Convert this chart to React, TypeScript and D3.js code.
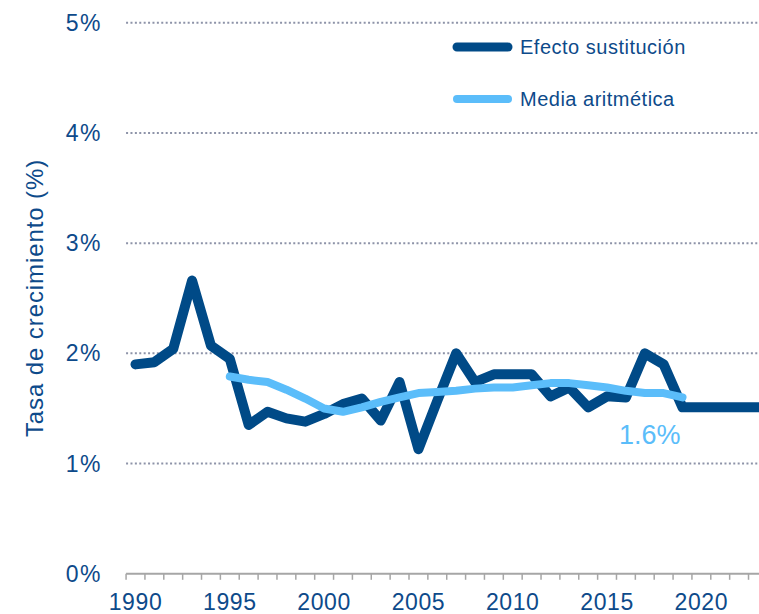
import * as d3 from 'd3';

const WIDTH = 759;
const HEIGHT = 614;

const DARK = '#004a87';
const LIGHT = '#5bbdfa';
const TEXT = '#0d4a8a';
const FONT = '"Liberation Sans", Arial, sans-serif';

// Efecto sustitución, 1990-2024 (flat from 2019 on)
const substYears = d3.range(1990, 2025);
const substValues = [
  1.9, 1.92, 2.04, 2.66, 2.07, 1.95, 1.35, 1.47, 1.41, 1.38,
  1.45, 1.54, 1.59, 1.39, 1.74, 1.13, 1.57, 2.0, 1.74, 1.81,
  1.81, 1.81, 1.61, 1.69, 1.51, 1.61, 1.6, 2.0, 1.9, 1.51,
  1.51, 1.51, 1.51, 1.51, 1.51,
];

// Media aritmética, 1995-2019
const meanYears = d3.range(1995, 2020);
const meanValues = [
  1.79, 1.76, 1.74, 1.67, 1.59, 1.5, 1.47, 1.51, 1.56, 1.6,
  1.64, 1.65, 1.66, 1.68, 1.69, 1.69, 1.71, 1.73, 1.73, 1.71,
  1.69, 1.66, 1.64, 1.64, 1.6,
];

const yTicks = [0, 1, 2, 3, 4, 5];
const xLabelYears = [1990, 1995, 2000, 2005, 2010, 2015, 2020];
const tickYears = d3.range(1990, 2025);

const legendItems = [
  { label: 'Efecto sustitución', color: DARK, width: 9 },
  { label: 'Media aritmética', color: LIGHT, width: 8 },
];

export default function App() {
  const x = d3.scaleLinear().domain([1990, 2019]).range([135.5, 682.5]);
  const y = d3.scaleLinear().domain([0, 5]).range([573.8, 22.7]);
  const plotLeft = x(1989.5);

  const line = d3
    .line<[number, number]>()
    .x((d) => x(d[0]))
    .y((d) => y(d[1]));

  const substPath = line(substYears.map((yr, i) => [yr, substValues[i]]));
  const meanPath = line(meanYears.map((yr, i) => [yr, meanValues[i]]));
  const lastMean = meanValues[meanValues.length - 1];

  return (
    <svg
      width={WIDTH}
      height={HEIGHT}
      style={{ position: 'absolute', left: 0, top: 0, background: '#fff', overflow: 'hidden' }}
      fontFamily={FONT}
    >
      {/* gridlines */}
      {yTicks.slice(1).map((t) => (
        <line
          key={t}
          x1={plotLeft}
          x2={WIDTH}
          y1={y(t)}
          y2={y(t)}
          stroke="#8d93a8"
          strokeWidth={2}
          strokeDasharray="2 2.4"
        />
      ))}

      {/* x axis */}
      <line x1={plotLeft} x2={WIDTH} y1={y(0)} y2={y(0)} stroke="#a6a6a6" strokeWidth={2} />
      {tickYears.map((yr) => (
        <line
          key={yr}
          x1={x(yr - 0.5)}
          x2={x(yr - 0.5)}
          y1={y(0)}
          y2={y(0) + 6}
          stroke="#a6a6a6"
          strokeWidth={1.5}
        />
      ))}
      {xLabelYears.map((yr) => (
        <text
          key={yr}
          x={x(yr)}
          y={610}
          textAnchor="middle"
          fontSize={23}
          fill={TEXT}
          letterSpacing={0.6}
        >
          {yr}
        </text>
      ))}

      {/* y axis labels */}
      {yTicks.map((t) => (
        <text
          key={t}
          x={102}
          y={y(t) + 8}
          textAnchor="end"
          fontSize={23}
          fill={TEXT}
          letterSpacing={1.5}
        >
          {t}%
        </text>
      ))}
      <text
        transform={`translate(43, 298) rotate(-90)`}
        textAnchor="middle"
        fontSize={24}
        fill={TEXT}
        letterSpacing={0.9}
      >
        Tasa de crecimiento (%)
      </text>

      {/* series */}
      <path
        d={substPath ?? ''}
        fill="none"
        stroke={DARK}
        strokeWidth={10}
        strokeLinejoin="round"
        strokeLinecap="round"
      />
      <path
        d={meanPath ?? ''}
        fill="none"
        stroke={LIGHT}
        strokeWidth={8}
        strokeLinejoin="round"
        strokeLinecap="round"
      />
      <text
        x={x(2019) - 2}
        y={y(lastMean) + 47}
        textAnchor="end"
        fontSize={27}
        fill={LIGHT}
      >
        {d3.format('.1f')(lastMean)}%
      </text>

      {/* legend */}
      {legendItems.map((it, i) => (
        <g key={it.label} transform={`translate(0, ${47 + i * 52})`}>
          <line
            x1={457}
            x2={508}
            y1={0}
            y2={0}
            stroke={it.color}
            strokeWidth={it.width}
            strokeLinecap="round"
          />
          <text x={520} y={7} fontSize={20} fill={TEXT} letterSpacing={0.5}>
            {it.label}
          </text>
        </g>
      ))}
    </svg>
  );
}
